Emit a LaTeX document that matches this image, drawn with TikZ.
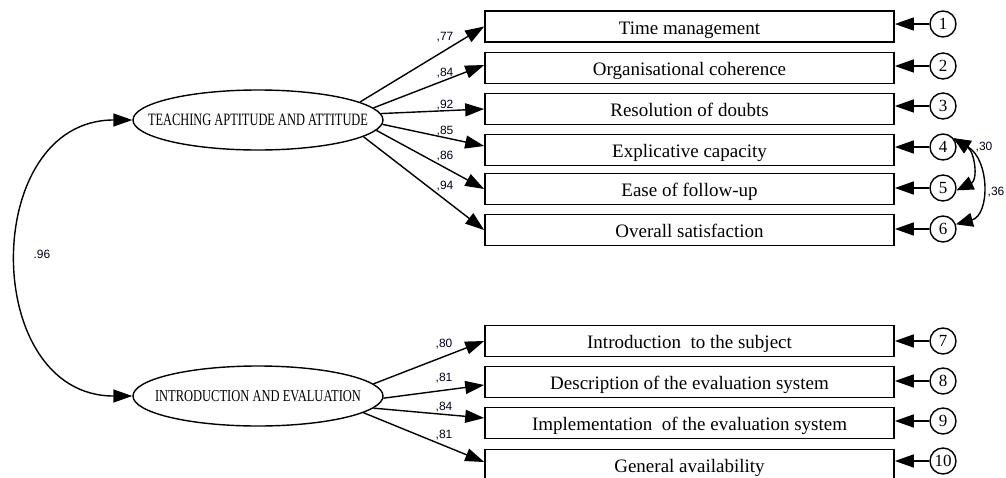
\documentclass[tikz,border=0pt]{standalone}
\usepackage{fontspec}
\setmainfont{Liberation Serif}
\newfontfamily\lblfont{Liberation Sans}
\usetikzlibrary{arrows.meta,shapes.geometric}
\begin{document}
\begin{tikzpicture}[x=1pt,y=1pt,
  obs/.style={draw, line width=1.6pt, minimum width=409pt, minimum height=31pt, inner sep=0pt, text height=15pt, text depth=0pt, font=\fontsize{19}{22}\selectfont},
  lat/.style={draw, ellipse, line width=1.4pt, minimum width=250pt, minimum height=60pt, inner sep=0pt},
  err/.style={draw, circle, line width=1.4pt, minimum size=26pt, inner sep=0pt, font=\fontsize{17}{19}\selectfont},
  path/.style={line width=1.4pt, -{Triangle[length=19pt,width=13pt]}},
  dpath/.style={line width=1.4pt, {Triangle[length=19pt,width=13pt]}-{Triangle[length=19pt,width=13pt]}},
  cpath/.style={line width=1.4pt, {Triangle[length=17pt,width=14pt]}-{Triangle[length=17pt,width=14pt]}},
  coef/.style={font=\lblfont\fontsize{12}{13}\selectfont, text=black!90!blue, inner sep=0pt}
]
\useasboundingbox (0,0) rectangle (1006,-477);
% latent variables
\node[lat] (e1) at (258,-120) {\makebox[0pt]{\resizebox{220pt}{11.5pt}{\fontsize{17}{20}\selectfont TEACHING APTITUDE AND ATTITUDE}}};
\node[lat] (e2) at (258,-396) {\makebox[0pt]{\resizebox{206pt}{11pt}{\fontsize{17}{20}\selectfont INTRODUCTION AND EVALUATION}}};
% observed variables
\node[obs] (b1) at (689.5,-26.5) {Time management};
\node[obs] (b2) at (689.5,-68) {Organisational coherence};
\node[obs] (b3) at (689.5,-109) {Resolution of doubts};
\node[obs] (b4) at (689.5,-150) {Explicative capacity};
\node[obs] (b5) at (689.5,-189) {Ease of follow-up};
\node[obs] (b6) at (689.5,-230) {Overall satisfaction};
\node[obs] (b7) at (689.5,-341) {Introduction\ \ to the subject};
\node[obs] (b8) at (689.5,-382) {Description of the evaluation system};
\node[obs] (b9) at (689.5,-423) {Implementation\ \ of the evaluation system};
\node[obs] (b10) at (689.5,-465) {General availability};
% errors
\node[err] (c1) at (943,-24) {1};
\node[err] (c2) at (943,-66) {2};
\node[err] (c3) at (943,-106) {3};
\node[err] (c4) at (943,-147) {4};
\node[err] (c5) at (943,-188) {5};
\node[err] (c6) at (943,-229) {6};
\node[err] (c7) at (943,-341) {7};
\node[err] (c8) at (943,-381) {8};
\node[err] (c9) at (943,-421) {9};
\node[err] (c10) at (943,-461) {10};
\foreach \i in {1,...,10}{
  \draw[path] (c\i.west) -- (b\i.east |- c\i.west);
}
% loadings
\draw[path] (e1.10) -- (b1.west);
\draw[path] (e1.6.5) -- ([yshift=3pt]b2.west);
\draw[path] (e1.3.2) -- (b3.west);
\draw[path] (e1.-2.3) -- ([yshift=4pt]b4.west);
\draw[path] (e1.-5.9) -- (b5.west);
\draw[path] (e1.-9.2) -- (b6.west);
\draw[path] (e2.6) -- (b7.west);
\draw[path] (e2.-1) -- ([yshift=-3pt]b8.west);
\draw[path] (e2.-6) -- ([yshift=5pt]b9.west);
\draw[path] (e2.-9.7) -- ([yshift=3pt]b10.west);
\node[coef] (l1) at (445,-37) {,77};
\node[coef] (l2) at (445,-73) {,84};
\node[coef] (l3) at (445,-105) {,92};
\node[coef] (l4) at (445,-131) {,85};
\node[coef] (l5) at (445,-156) {,86};
\node[coef] (l6) at (445,-186) {,94};
\node[coef] (l7) at (444,-344) {,80};
\node[coef] (l8) at (444,-378) {,81};
\node[coef] (l9) at (444,-407) {,84};
\node[coef] (l10) at (444,-435) {,81};
% factor correlation
\draw[dpath] (e1.west) .. controls (-20,-120) and (-20,-396) .. (e2.west);
\node[coef] (r) at (42,-254) {.96};
% error covariances
\draw[cpath] (c4.40) .. controls (975,-152) and (978,-180) .. (c5.-10);
\draw[cpath] (c4.40) .. controls (990,-160) and (990,-215) .. (c6.20);
\node[coef] (r45) at (984,-147) {,30};
\node[coef] (r46) at (996,-192) {,36};
\end{tikzpicture}
\end{document}
